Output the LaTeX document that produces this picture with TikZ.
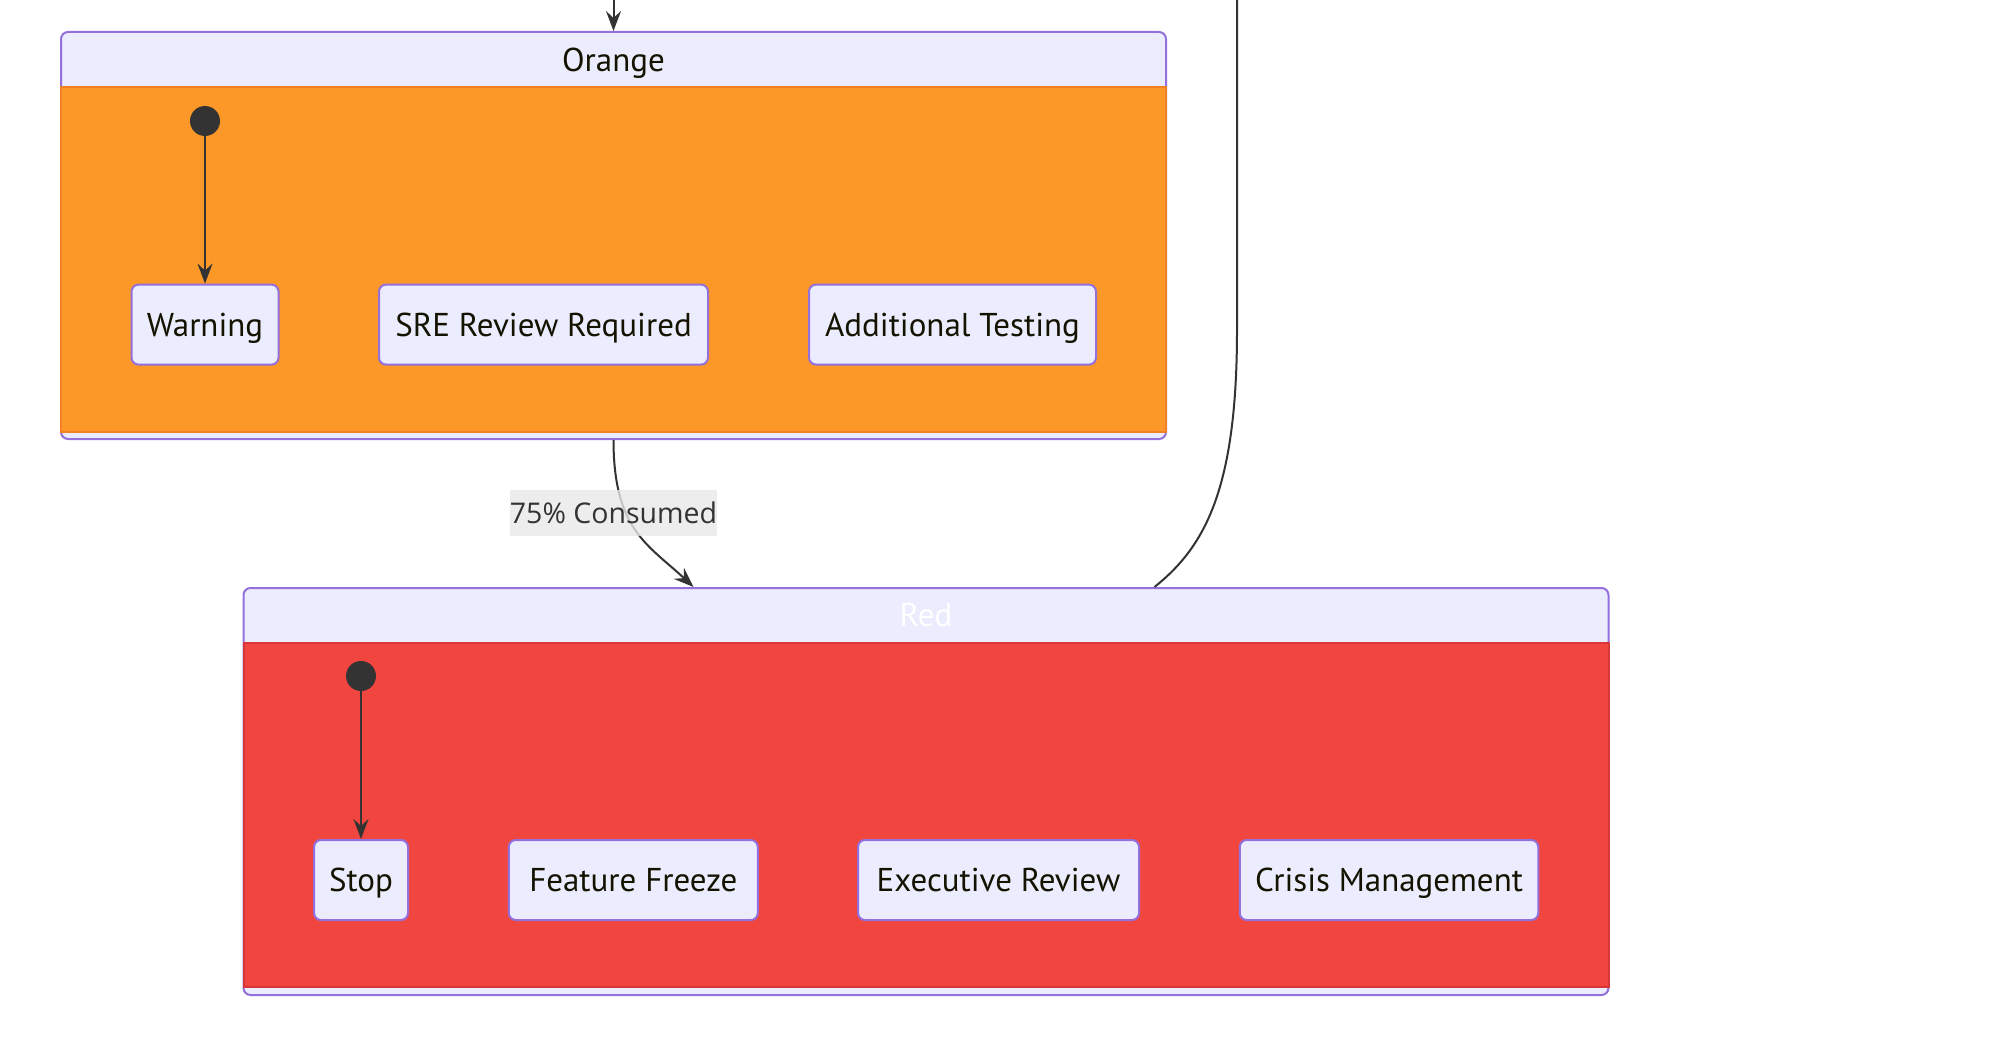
\documentclass[tikz,border=0pt]{standalone}
\usepackage{fontspec}
\setmainfont{PT Sans}
\newfontfamily\lblfont{Open Sans}
\usetikzlibrary{arrows.meta}
\definecolor{lav}{HTML}{ECECFF}
\definecolor{mpur}{HTML}{9370DB}
\definecolor{orfill}{HTML}{FC9828}
\definecolor{ordraw}{HTML}{F28025}
\definecolor{rdfill}{HTML}{F14640}
\definecolor{rddraw}{HTML}{D9363A}
\definecolor{ink}{HTML}{333333}
\definecolor{ntext}{HTML}{131300}
\definecolor{lblbg}{HTML}{E8E8E8}
\begin{document}
\begin{tikzpicture}[x=1pt,y=-1pt,
  every node/.style={font=\fontsize{33}{39}\selectfont, text height=23pt, text depth=0pt},
  cont/.style={draw=mpur, fill=lav, line width=2pt, rounded corners=7pt, inner sep=0pt},
  body/.style={line width=2pt, inner sep=0pt},
  stbox/.style={draw=mpur, fill=lav, line width=2pt, rounded corners=7pt, minimum height=80pt, inner sep=0pt, text=ntext},
  startdot/.style={circle, fill=ink, minimum size=30pt, inner sep=0pt},
  wire/.style={draw=ink, line width=2pt},
  conn/.style={wire, -{Stealth[length=20pt,width=15pt,inset=7pt]}},
  lbl/.style={fill=lblbg, fill opacity=0.8, text opacity=1, text=ink, inner xsep=0pt, inner ysep=0pt, minimum height=46pt, text height=20.5pt, font=\lblfont\fontsize{28.5}{34}\selectfont},
]
\path[use as bounding box] (0,0) rectangle (2000,1054);

% Orange composite state
\node[cont, minimum width=1105pt, minimum height=407pt] (orange) at (613.5,235.5) {};
\node[body, fill=orfill, draw=ordraw, minimum width=1105pt, minimum height=345pt] (orangebody) at (613.5,259.5) {};
\node[text=ntext] (orangetitle) at (613.5,60) {Orange};
\node[startdot] (odot) at (205,121) {};
\node[stbox, minimum width=147pt] (warning) at (205,324.6) {Warning};
\node[stbox, minimum width=329pt] (sre) at (543.5,324.6) {SRE Review Required};
\node[stbox, minimum width=287pt] (addtest) at (952.5,324.6) {Additional Testing};

% Red composite state
\node[cont, minimum width=1365pt, minimum height=407pt] (red) at (926,791.5) {};
\node[body, fill=rdfill, draw=rddraw, minimum width=1365pt, minimum height=344pt] (redbody) at (926,815) {};
\node[text=white] (redtitle) at (926,615) {Red};
\node[startdot] (rdot) at (361,676) {};
\node[stbox, minimum width=94pt] (stop) at (361,880) {Stop};
\node[stbox, minimum width=249pt] (freeze) at (633.3,880) {Feature Freeze};
\node[stbox, minimum width=281pt] (exec) at (998.5,880) {Executive Review};
\node[stbox, minimum width=298.5pt] (crisis) at (1389,880) {Crisis Management};

% connectors
\coordinate (topin) at (613.5,0);
\coordinate (topout) at (1237,0);
\draw[conn] (topin) -- (orange.north);
\draw[conn] (odot) -- (warning);
\draw[conn] (rdot) -- (stop);
\draw[conn] (orange.south) .. controls +(0,90) and +(-45,-42) .. ([xshift=451pt]red.north west);
\node[lbl] (lbl75) at (613.5,513) {75\% Consumed};
\draw[wire] ([xshift=912pt]red.north west) .. controls +(50,-40) and +(0,160) .. (1237,330) -- (topout);
\end{tikzpicture}
\end{document}
